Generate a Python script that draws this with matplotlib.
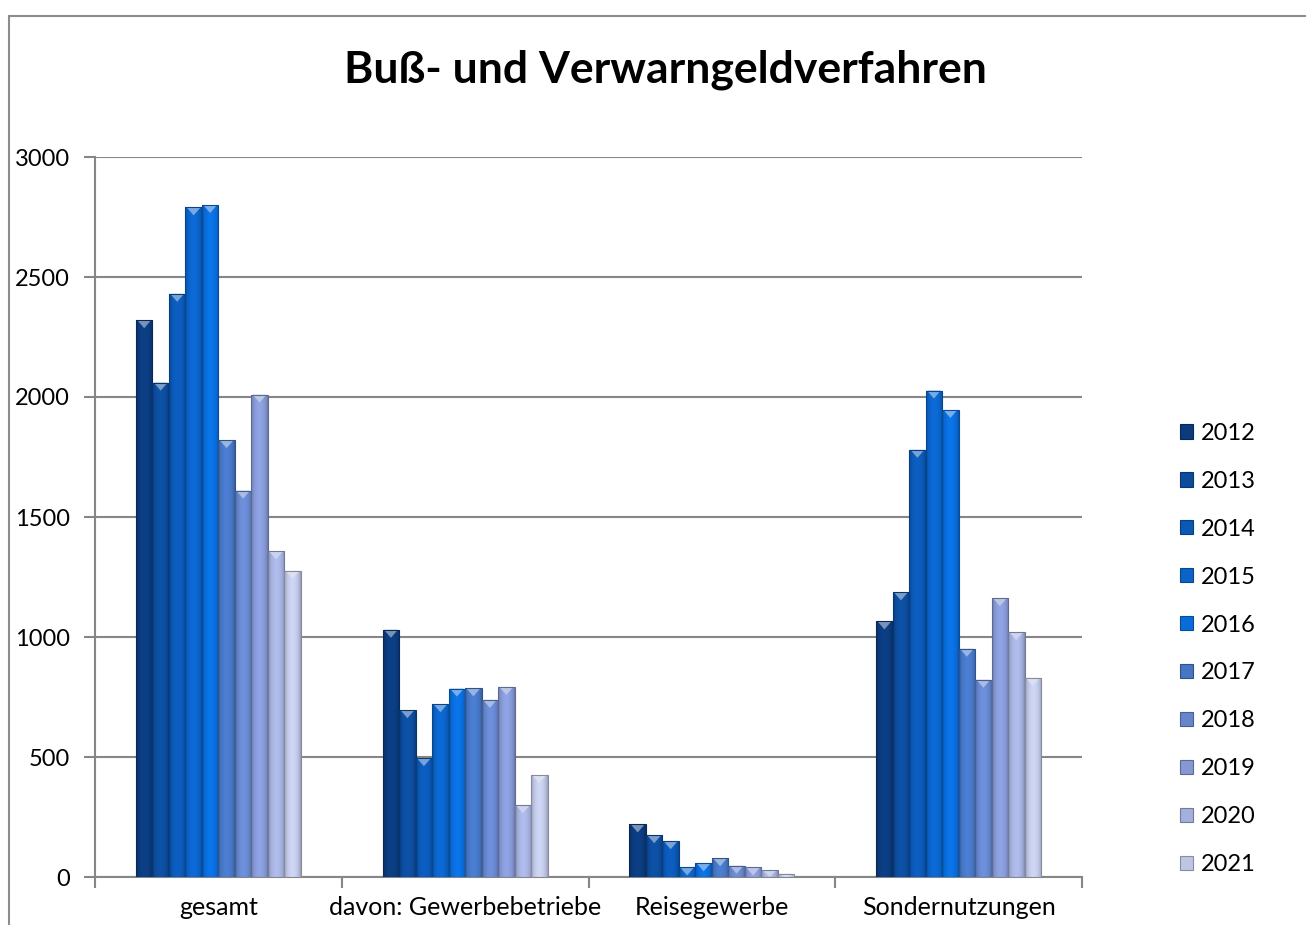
import numpy as np
import matplotlib
matplotlib.use("Agg")
import matplotlib.pyplot as plt
from matplotlib.patches import Rectangle, Polygon, Patch
from matplotlib.colors import to_rgb

plt.rcParams['font.family'] = ['Lato', 'DejaVu Sans']

title = "Buß- und Verwarngeldverfahren"
categories = ["gesamt", "davon: Gewerbebetriebe", "Reisegewerbe", "Sondernutzungen"]
years = ["2012", "2013", "2014", "2015", "2016", "2017", "2018", "2019", "2020", "2021"]

v2012 = [2320, 1030, 219, 1065]
v2013 = [2060, 695, 174, 1186]
v2014 = [2430, 495, 149, 1780]
v2015 = [2790, 720, 40, 2027]
v2016 = [2800, 785, 57, 1946]
v2017 = [1820, 786, 78, 951]
v2018 = [1610, 738, 47, 822]
v2019 = [2010, 792, 40, 1162]
v2020 = [1357, 299, 28, 1020]
v2021 = [1276, 424, 14, 830]
series = [v2012, v2013, v2014, v2015, v2016, v2017, v2018, v2019, v2020, v2021]

colors = ["#0b3b7c", "#0d4c9c", "#0c58b5", "#0b63c8", "#0a6cda",
          "#4676c4", "#6686cc", "#8598d4", "#a3afdc", "#bfc6e4"]

W, H = 1306, 925
fig = plt.figure(figsize=(W / 100, H / 100), dpi=100)
fig.patch.set_facecolor("white")

# outer chart border (cropped at right/bottom)
fig.patches.append(Rectangle((9 / W, -0.2), 1.5, 1 - 16 / H + 0.2, transform=fig.transFigure,
                             fill=False, edgecolor="#8c8c8c", linewidth=1.5, zorder=0))

ax = fig.add_axes([95 / W, 1 - 877 / H, (1082 - 95) / W, (877 - 157) / H])

x = np.arange(len(categories))
group = 0.668
bw = group / len(years)
ymax = 3000
tri_h = 8 * ymax / 720.0

for i, (vals, c) in enumerate(zip(series, colors)):
    xs = x - group / 2 + bw * (i + 0.5)
    bars = ax.bar(xs, vals, width=bw, color=c, edgecolor="none", zorder=3)
    base = np.array(to_rgb(c))
    t = np.linspace(0, 1, 40)
    prof = 0.78 + 0.3 * np.sin(np.pi * t) ** 0.6
    grad = np.clip(base[None, :] * prof[:, None], 0, 1)
    img = np.repeat(grad[None, :, :], 2, axis=0)
    for b in bars:
        x0, w, h = b.get_x(), b.get_width(), b.get_height()
        im = ax.imshow(img, extent=(x0, x0 + w, 0, h), aspect="auto", zorder=4,
                       interpolation="bilinear")
        im.set_clip_path(b)
        light = np.clip(base + (1 - base) * 0.45, 0, 1)
        th = min(tri_h, h)
        ax.add_patch(Polygon([(x0 + w * 0.08, h), (x0 + w * 0.92, h), (x0 + w / 2, h - th)],
                             closed=True, facecolor=light, edgecolor="none", zorder=5))
        ax.add_patch(Rectangle((x0, 0), w, h, fill=False, edgecolor=np.clip(base * 0.7, 0, 1),
                               linewidth=0.8, zorder=6))

ax.set_xlim(-0.5, len(categories) - 0.5)
ax.set_ylim(0, ymax)
ax.set_yticks(np.arange(0, 3001, 500))
ax.yaxis.grid(True, color="#868686", linewidth=1.5, zorder=1)
ax.set_axisbelow(True)

ax.set_xticks(x)
ax.set_xticklabels(categories, fontsize=18)
ax.tick_params(axis="x", length=0, pad=14)
ax.set_xticks(np.arange(-0.5, len(categories), 1), minor=True)
ax.tick_params(axis="x", which="minor", length=8, width=1.5, color="#868686", direction="out")
ax.tick_params(axis="y", length=8, width=1.5, color="#868686", labelsize=17, pad=10)

for s in ["top", "right"]:
    ax.spines[s].set_visible(False)
for s in ["left", "bottom"]:
    ax.spines[s].set_color("#868686")
    ax.spines[s].set_linewidth(1.5)

fig.text(665 / W, 1 - 70 / H, title, ha="center", va="center", fontsize=32, fontweight="bold")

handles = [Patch(facecolor=c, edgecolor=np.clip(np.array(to_rgb(c)) * 0.7, 0, 1), linewidth=0.8)
           for c in colors]
fig.legend(handles, years, loc="center left", bbox_to_anchor=(1180 / W, 1 - 649 / H),
           bbox_transform=fig.transFigure, frameon=False, fontsize=17,
           handlelength=0.55, handleheight=0.55, handletextpad=0.35,
           labelspacing=1.14, borderpad=0, borderaxespad=0)

fig.savefig("out.png", dpi=100)
